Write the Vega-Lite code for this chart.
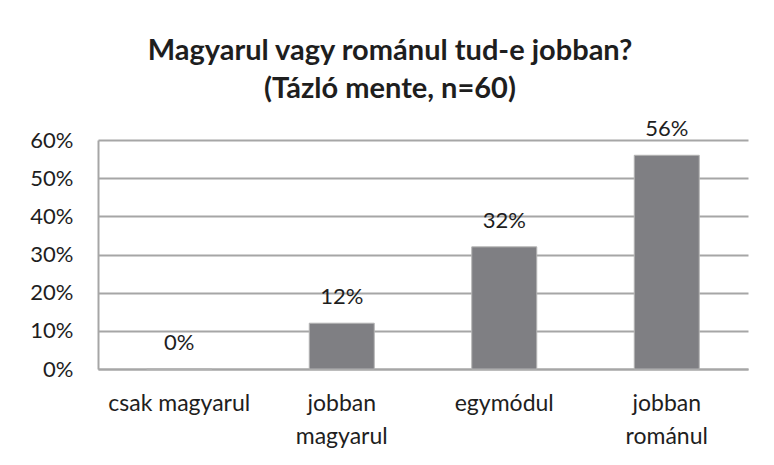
{
  "$schema": "https://vega.github.io/schema/vega-lite/v6.json",
  "width": 650,
  "height": 229,
  "autosize": {"type": "none"},
  "padding": {"left": 98, "top": 140, "right": 26, "bottom": 96},
  "background": "white",
  "title": {
    "text": ["Magyarul vagy románul tud-e jobban?", "(Tázló mente, n=60)"],
    "font": "Lato",
    "fontSize": 29,
    "fontWeight": "bold",
    "color": "#1e1e1e",
    "lineHeight": 38,
    "anchor": "middle",
    "dx": -33,
    "offset": 14
  },
  "data": {
    "values": [
      {"kategoria": "csak magyarul", "arany": 0},
      {"kategoria": "jobban magyarul", "arany": 0.12},
      {"kategoria": "egymódul", "arany": 0.32},
      {"kategoria": "jobban románul", "arany": 0.56}
    ]
  },
  "encoding": {
    "x": {
      "field": "kategoria",
      "type": "nominal",
      "sort": null,
      "scale": {"paddingInner": 0.6, "paddingOuter": 0.3},
      "axis": {
        "title": null,
        "labelAngle": 0,
        "labelFont": "Lato",
        "labelFontSize": 23,
        "labelColor": "#1e1e1e",
        "labelPadding": 23,
        "labelLineHeight": 33,
        "labelBaseline": "top",
        "labelExpr": "indexof(datum.label, 'jobban') == 0 ? split(datum.label, ' ') : datum.label",
        "ticks": false,
        "domain": true,
        "domainColor": "#a6a6a6",
        "domainWidth": 2,
        "grid": false
      }
    },
    "y": {
      "field": "arany",
      "type": "quantitative",
      "scale": {"domain": [0, 0.6], "nice": false},
      "axis": {
        "title": null,
        "format": ".0%",
        "values": [0, 0.1, 0.2, 0.3, 0.4, 0.5, 0.6],
        "labelFont": "Lato",
        "labelFontSize": 22,
        "labelColor": "#1e1e1e",
        "labelPadding": 25,
        "ticks": false,
        "domain": true,
        "domainColor": "#a6a6a6",
        "domainWidth": 2,
        "grid": true,
        "gridColor": "#a6a6a6",
        "gridWidth": 2
      }
    }
  },
  "layer": [
    {
      "mark": {"type": "bar", "color": "#7f7f83", "stroke": "#b4b4b4", "strokeWidth": 1}
    },
    {
      "mark": {"type": "text", "baseline": "middle", "dy": -26, "font": "Lato", "fontSize": 22, "color": "#1e1e1e"},
      "encoding": {"text": {"field": "arany", "type": "quantitative", "format": ".0%"}}
    }
  ],
  "config": {"view": {"stroke": null}}
}
